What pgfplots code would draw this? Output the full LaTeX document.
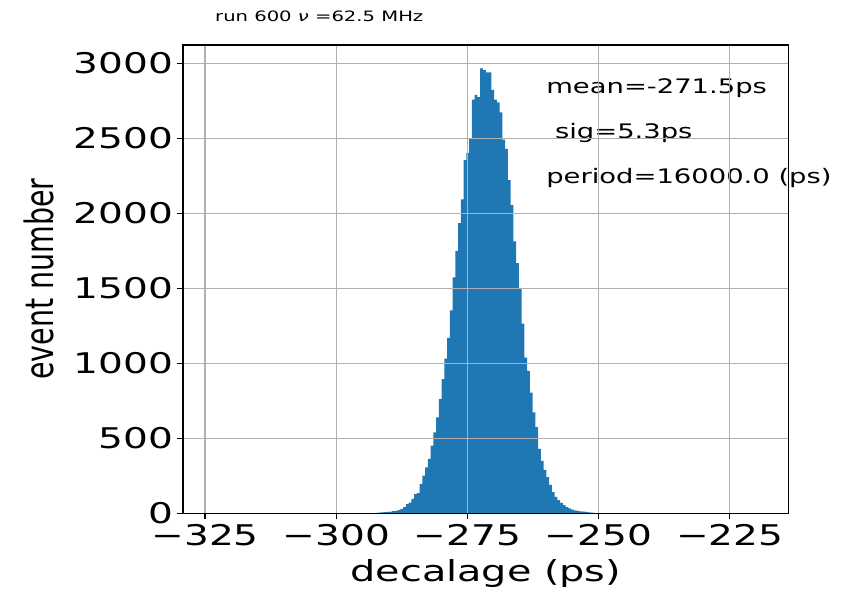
\documentclass[border=0pt]{standalone}
\usepackage{fontspec}
\setmainfont{DejaVu Sans}
% the reference is stretched sideways, so fonts are stretched too
\newfontfamily\wide[FakeStretch=1.37]{DejaVu Sans}
\newfontfamily\narrow[FakeStretch=0.73]{DejaVu Sans}
\usepackage{pgfplots}
\pgfplotsset{compat=1.18}
\definecolor{mplblue}{HTML}{1F77B4}
\definecolor{mplgrid}{HTML}{B0B0B0}

% left bin edge, count (last row closes the last bin)
\pgfplotstableread{
x y
-293.049 2
-292.524 3
-291.998 5
-291.473 7
-290.947 8
-290.422 10
-289.896 12
-289.371 14
-288.845 17
-288.320 22
-287.794 30
-287.269 42
-286.743 62
-286.218 72
-285.692 97
-285.167 128
-284.641 135
-284.116 197
-283.590 252
-283.065 307
-282.539 363
-282.014 451
-281.488 540
-280.963 640
-280.437 761
-279.912 894
-279.386 1031
-278.861 1170
-278.335 1352
-277.810 1573
-277.284 1750
-276.759 1934
-276.233 2093
-275.708 2354
-275.182 2403
-274.657 2498
-274.131 2757
-273.606 2790
-273.080 2774
-272.555 2966
-272.029 2955
-271.504 2940
-270.978 2940
-270.453 2823
-269.927 2757
-269.402 2740
-268.876 2673
-268.351 2491
-267.825 2430
-267.300 2221
-266.774 2055
-266.249 1812
-265.723 1668
-265.198 1502
-264.672 1265
-264.147 1038
-263.621 950
-263.096 805
-262.570 673
-262.045 575
-261.519 429
-260.994 350
-260.468 290
-259.943 242
-259.417 190
-258.892 142
-258.366 110
-257.841 88
-257.315 70
-256.790 55
-256.264 42
-255.739 33
-255.213 25
-254.688 20
-254.162 16
-253.637 13
-253.111 11
-252.586 9
-252.060 7
-251.535 4
-251.009 0
}\histdata

\begin{document}
\begin{tikzpicture}
\begin{axis}[
    scale only axis,
    width=605.4bp, height=468.3bp,
    xmin=-329.19, xmax=-213.8,
    ymin=0, ymax=3122,
    clip=false,
    axis on top,
    axis line style={black, line width=1.4bp},
    grid=major,
    major grid style={mplgrid, line width=1.3bp},
    tick align=outside,
    major tick length=6bp,
    tick style={black, line width=1.3bp},
    xtick={-325,-300,-275,-250,-225},
    xticklabels={−325,−300,−275,−250,−225},
    ytick={0,500,1000,1500,2000,2500,3000},
    yticklabels={0,500,1000,1500,2000,2500,3000},
    xtick pos=bottom, ytick pos=left,
    ticklabel style={font=\wide\fontsize{28.5bp}{30bp}\selectfont},
    yticklabel style={inner sep=0pt, xshift=-4bp},
    xticklabel style={inner sep=0pt, yshift=-5bp},
    xlabel={decalage (ps)},
    xlabel style={font=\wide\fontsize{29bp}{32bp}\selectfont,
        at={(rel axis cs:0.5,-0.1461)}, anchor=base, inner sep=0pt},
    ylabel={event number},
    ylabel style={font=\narrow\fontsize{39bp}{42bp}\selectfont,
        at={(rel axis cs:-0.2147,0.5)}, anchor=base, inner sep=0pt},
]
\addplot[ybar interval, fill=mplblue, draw=none] table {\histdata};
\coordinate (sw) at (rel axis cs:0,0);
\node[anchor=base west, inner sep=0pt, font=\wide\fontsize{20bp}{22bp}\selectfont] at (axis cs:-260,2800) {mean=-271.5ps};
\node[anchor=base west, inner sep=0pt, font=\wide\fontsize{20bp}{22bp}\selectfont] at (axis cs:-260,2500) {\ sig=5.3ps};
\node[anchor=base west, inner sep=0pt, font=\wide\fontsize{20bp}{22bp}\selectfont] at (axis cs:-260,2200) {period=16000.0 (ps)};
\node[anchor=base west, inner sep=0pt, font=\wide\fontsize{14.3bp}{16bp}\selectfont] at (rel axis cs:0.0527,1.0502) {run 600 {\itshape ν} =62.5 MHz};
\end{axis}
\pgfresetboundingbox
\path[use as bounding box] (sw) ++(-183.1bp,-77.7bp) rectangle ++(843bp,591bp);
\end{tikzpicture}
\end{document}
